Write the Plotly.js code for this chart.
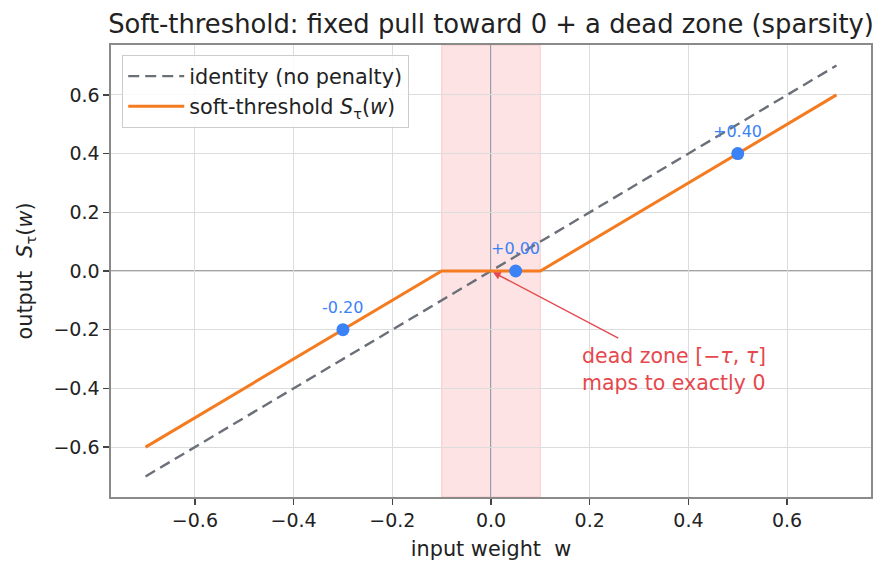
<!DOCTYPE html>
<html>
<head>
<meta charset="utf-8">
<script src="https://cdn.plot.ly/plotly-3.0.1.min.js"></script>
<style>
  html, body { margin: 0; padding: 0; background: #fff; }
  #chart { width: 884px; height: 573px; }
</style>
</head>
<body>
<div id="chart"></div>
<script>
// Soft-threshold operator S_tau(w) = sign(w) * max(|w| - tau, 0), tau = 0.1
const tau = 0.1;

// identity reference line (no penalty)
const identityW = [-0.7, 0.7];
const identityOut = [-0.7, 0.7];

// soft-threshold breakpoints
const softW = [-0.7, -0.1, 0.1, 0.7];
const softOut = [-0.6, 0.0, 0.0, 0.6];

// example weights and their thresholded outputs
const sampleW = [-0.3, 0.05, 0.5];
const sampleOut = [-0.2, 0.0, 0.4];

const axisTicks = [-0.6, -0.4, -0.2, 0.0, 0.2, 0.4, 0.6];
const axisTickText = ['\u22120.6', '\u22120.4', '\u22120.2', '0.0', '0.2', '0.4', '0.6'];

const ORANGE = '#f47b20';
const BLUE = '#3b82f6';
const RED = '#e5484d';
const GRAY = '#6b6f78';
const FONT = 'DejaVu Sans, sans-serif';

function signedLabel(v) {
  return (v < 0 ? '-' : '+') + Math.abs(v).toFixed(2);
}

const traces = [
  {
    x: identityW, y: identityOut, type: 'scatter', mode: 'lines',
    name: 'identity (no penalty)',
    line: { color: GRAY, width: 2.4, dash: '11px,6px' }
  },
  {
    x: softW, y: softOut, type: 'scatter', mode: 'lines',
    name: 'soft-threshold <i>S</i><sub>\u03c4</sub>(<i>w</i>)',
    line: { color: ORANGE, width: 3 }
  },
  {
    x: sampleW, y: sampleOut, type: 'scatter', mode: 'markers',
    showlegend: false, hoverinfo: 'skip',
    marker: { color: BLUE, size: 13 }
  }
];

const annotations = sampleW.map((w, i) => ({
  x: w, y: sampleOut[i], xref: 'x', yref: 'y',
  text: signedLabel(sampleOut[i]),
  showarrow: false, xanchor: 'center', yanchor: 'bottom', yshift: 11,
  font: { family: FONT, size: 16, color: BLUE }
}));

// arrow pointing at the origin of the dead zone
annotations.push({
  x: 0.004, y: -0.004, xref: 'x', yref: 'y',
  ax: 0.265, ay: -0.235, axref: 'x', ayref: 'y',
  text: ' ', showarrow: true,
  arrowhead: 2, arrowsize: 1.1, arrowwidth: 1.4, arrowcolor: RED
});
annotations.push({
  x: 0.18, y: -0.335, xref: 'x', yref: 'y',
  text: 'dead zone [\u2212<i>\u03c4</i>, <i>\u03c4</i>]<br>maps to exactly 0',
  showarrow: false, xanchor: 'left', yanchor: 'middle', align: 'left',
  font: { family: FONT, size: 20.5, color: RED }
});

const shapes = [
  // dead zone band
  {
    type: 'rect', xref: 'x', yref: 'paper',
    x0: -tau, x1: tau, y0: 0, y1: 1,
    fillcolor: 'rgba(239,68,68,0.15)',
    line: { color: 'rgba(239,68,68,0.18)', width: 1.2 },
    layer: 'below'
  },
  // reference lines through zero
  {
    type: 'line', xref: 'paper', yref: 'y', x0: 0, x1: 1, y0: 0, y1: 0,
    line: { color: 'rgba(110,110,115,0.85)', width: 1.5 }, layer: 'below'
  },
  {
    type: 'line', xref: 'x', yref: 'paper', x0: 0, x1: 0, y0: 0, y1: 1,
    line: { color: 'rgba(110,110,130,0.85)', width: 1.5 }, layer: 'below'
  }
];

const axisCommon = {
  range: [-0.77, 0.77],
  tickmode: 'array', tickvals: axisTicks, ticktext: axisTickText,
  ticks: 'outside', ticklen: 6, tickwidth: 1.3, tickcolor: '#444',
  tickfont: { family: FONT, size: 19, color: '#222' },
  showgrid: true, gridcolor: '#dcdcdc', gridwidth: 1,
  zeroline: false,
  showline: true, linecolor: '#8a8a8a', linewidth: 1.6, mirror: true
};

const layout = {
  width: 884, height: 573,
  margin: { l: 111, r: 13, t: 45, b: 76 },
  paper_bgcolor: '#fff', plot_bgcolor: '#fff',
  font: { family: FONT, color: '#222' },
  title: {
    text: 'Soft-threshold: fixed pull toward 0 + a dead zone (sparsity)',
    x: 0.5, xref: 'paper', xanchor: 'center',
    y: 0.958, yref: 'container', yanchor: 'middle',
    font: { family: FONT, size: 25.8, color: '#222' }
  },
  xaxis: Object.assign({}, axisCommon, {
    title: { text: 'input weight\u00a0\u00a0w', font: { family: FONT, size: 20.8, color: '#222' }, standoff: 11 }
  }),
  yaxis: Object.assign({}, axisCommon, {
    title: { text: 'output\u00a0\u00a0<i>S</i><sub>\u03c4</sub>(<i>w</i>)', font: { family: FONT, size: 20.8, color: '#222' }, standoff: 15 }
  }),
  showlegend: true,
  legend: {
    x: 0.0145, y: 0.978, xanchor: 'left', yanchor: 'top',
    bgcolor: 'rgba(255,255,255,0.85)', bordercolor: '#cccccc', borderwidth: 1.2,
    font: { family: FONT, size: 20.8, color: '#222' },
    itemwidth: 56, tracegroupgap: 0
  },
  shapes: shapes,
  annotations: annotations
};

Plotly.newPlot('chart', traces, layout, { staticPlot: true, displayModeBar: false });
</script>
</body>
</html>
